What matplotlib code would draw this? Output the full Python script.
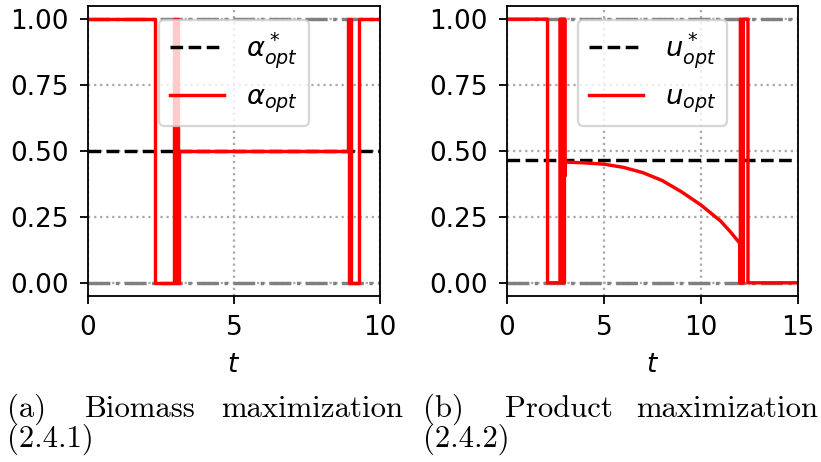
import matplotlib
matplotlib.use("Agg")
import matplotlib.pyplot as plt

# ---- data ----
alpha_star = 0.5
alpha_t = [0, 2.3, 2.95, 3.0, 3.04, 3.08, 3.12, 8.92, 8.95, 8.98, 9.0, 9.02, 9.28, 10]
alpha_v = [1, 0, 1, 0, 1, 0, 0.5, 1, 0, 1, 0.3, 0, 1, 1]

u_star = 0.467
u_t = [0, 2.09, 2.09, 2.73, 2.73, 2.79, 2.79, 2.85, 2.85, 2.91, 2.91, 2.96, 2.96, 2.99, 2.99,
       3.0, 4.0, 5.0, 6.0, 7.0, 8.0, 9.0, 10.0, 11.0, 11.5, 12.0,
       12.0, 12.03, 12.03, 12.06, 12.06, 12.1, 12.1, 12.14, 12.14, 12.18, 12.18, 12.42, 12.42, 15]
u_v = [1, 1, 0, 0, 1, 1, 0, 0, 1, 1, 0, 0, 1, 1, 0.405,
       0.458, 0.455, 0.450, 0.438, 0.418, 0.388, 0.345, 0.295, 0.235, 0.195, 0.15,
       0, 0, 1, 1, 0, 0, 0.45, 0.45, 0, 0, 1, 1, 0, 0]

xlims = [10, 15]
xticks = [[0, 5, 10], [0, 5, 10, 15]]
yticks = [0, 0.25, 0.5, 0.75, 1.0]
ytick_labels = ["0.00", "0.25", "0.50", "0.75", "1.00"]
captions = [("(a)", "Biomass", "maximization", "(2.4.1)"),
            ("(b)", "Product", "maximization", "(2.4.2)")]

W, H, DPI = 822, 462, 164
fig = plt.figure(figsize=(W / DPI, H / DPI), dpi=DPI)

def px(x0, y0, x1, y1):
    return [x0 / W, 1 - y1 / H, (x1 - x0) / W, (y1 - y0) / H]

ax1 = fig.add_axes(px(88, 6, 380, 296))
ax2 = fig.add_axes(px(507, 6, 798, 296))

def style(ax, xmax, xt):
    ax.axhline(0, color="gray", ls="-.", lw=1.5)
    ax.axhline(1, color="gray", ls="-.", lw=1.5)
    ax.grid(True, ls=":", lw=1.0, color="#aaaaaa")
    ax.set_xlim(0, xmax)
    ax.set_ylim(-0.05, 1.05)
    ax.set_xticks(xt)
    ax.set_yticks(yticks)
    ax.set_yticklabels(ytick_labels)
    ax.set_xlabel("$t$", fontsize=11.5, labelpad=4.5)
    ax.tick_params(labelsize=11.5, pad=5)

style(ax1, xlims[0], xticks[0])
ax1.axhline(alpha_star, color="black", ls="--", lw=1.5, label=r"$\alpha^*_{opt}$")
ax1.plot(alpha_t, alpha_v, color="red", lw=1.5, drawstyle="steps-post", label=r"$\alpha_{opt}$")
ax1.legend(loc="upper center", fontsize=12)

style(ax2, xlims[1], xticks[1])
ax2.axhline(u_star, color="black", ls="--", lw=1.5, label=r"$u^*_{opt}$")
ax2.plot(u_t, u_v, color="red", lw=1.5, label=r"$u_{opt}$")
ax2.legend(loc="upper center", fontsize=12)

cap_font = dict(family="cmr10", size=13.5)
for (a, w1, w2, num), (xl, xm, xr) in zip(captions, [(7, 85, 403), (423, 505, 818)]):
    y1 = 1 - 417 / H
    y2 = 1 - 447 / H
    fig.text(xl / W, y1, a, ha="left", va="baseline", **cap_font)
    fig.text(xm / W, y1, w1, ha="left", va="baseline", **cap_font)
    fig.text(xr / W, y1, w2, ha="right", va="baseline", **cap_font)
    fig.text(xl / W, y2, num, ha="left", va="baseline", **cap_font)

fig.savefig("out.png", dpi=DPI)
